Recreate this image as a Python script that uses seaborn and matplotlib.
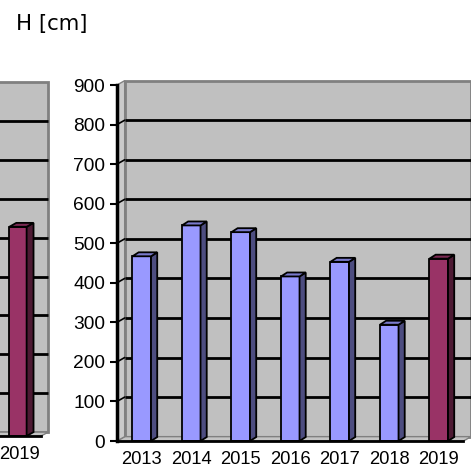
import numpy as np
import matplotlib
matplotlib.use("Agg")
import matplotlib.pyplot as plt
import matplotlib.transforms as mtransforms
from matplotlib.patches import Polygon
import seaborn as sns

# Heights per year (cm)
years = ["2013", "2014", "2015", "2016", "2017", "2018", "2019"]
heights = [467, 545, 528, 416, 453, 294, 461]
# Neighbouring panel: last year only
prev_years = ["2019"]
prev_heights = [538]

BLUE = "#9999FF"
PLUM = "#993366"
bar_colors = [BLUE] * 6 + [PLUM]

sns.set_theme(style="white")
plt.rcParams["font.family"] = ["Liberation Sans", "DejaVu Sans"]

W, H = 471, 468
fig = plt.figure(figsize=(W / 100, H / 100), dpi=100)
fig.patch.set_facecolor("white")


def add_px_axes(left, top, right, bottom):
    return fig.add_axes([left / W, (H - bottom) / H, (right - left) / W, (bottom - top) / H])


def shade(color, f):
    r, g, b = matplotlib.colors.to_rgb(color)
    return (r * f, g * f, b * f)


def draw_3d_frame(ax, x0, x1, ymax, wdx, wdy, side=True):
    wall = "#C0C0C0"
    edge = "#808080"
    # back wall
    ax.add_patch(Polygon([(x0 + wdx, wdy), (x1 + wdx, wdy), (x1 + wdx, ymax + wdy), (x0 + wdx, ymax + wdy)],
                         closed=True, facecolor=wall, edgecolor=edge, lw=2, zorder=0, clip_on=False))
    # floor
    ax.add_patch(Polygon([(x0, 0), (x1, 0), (x1 + wdx, wdy), (x0 + wdx, wdy)],
                         closed=True, facecolor="#C4C4C4", edgecolor=edge, lw=1, zorder=0.5, clip_on=False))
    if side:
        ax.add_patch(Polygon([(x0, 0), (x0 + wdx, wdy), (x0 + wdx, ymax + wdy), (x0, ymax)],
                             closed=True, facecolor="#CACACA", edgecolor=edge, lw=1, zorder=0.5, clip_on=False))
    for v in range(100, int(ymax), 100):
        ax.plot([x0 + wdx, x1 + wdx], [v + wdy, v + wdy], color="black", lw=2, zorder=1,
                solid_capstyle="butt", clip_on=False)
        if side:
            ax.plot([x0, x0 + wdx], [v, v + wdy], color="black", lw=1.2, zorder=1, clip_on=False)


def draw_bars(ax, cats, vals, colors, bdx, bdy):
    sns.barplot(x=cats, y=vals, hue=cats, palette=colors, width=0.375, edgecolor="black",
                linewidth=1.3, legend=False, ax=ax, zorder=3, saturation=1)
    for p in ax.patches:
        if not isinstance(p, matplotlib.patches.Rectangle):
            continue
        x0, w, h = p.get_x(), p.get_width(), p.get_height()
        x1 = x0 + w
        fc = p.get_facecolor()
        ax.add_patch(Polygon([(x1, 0), (x1 + bdx, bdy), (x1 + bdx, h + bdy), (x1, h)], closed=True,
                             facecolor=shade(fc, 0.5), edgecolor="black", lw=1.3, zorder=3))
        ax.add_patch(Polygon([(x0, h), (x1, h), (x1 + bdx, h + bdy), (x0 + bdx, h + bdy)], closed=True,
                             facecolor=shade(fc, 0.8), edgecolor="black", lw=1.3, zorder=3))


def style_axes(ax, ncat_lo, ncat_hi, show_y):
    ax.set_facecolor("none")
    ax.set_ylim(0, 900)
    ax.set_xlim(ncat_lo, ncat_hi)
    for s in ["top", "right"]:
        ax.spines[s].set_visible(False)
    ax.spines["bottom"].set_color("black")
    ax.spines["bottom"].set_linewidth(2)
    ax.spines["bottom"].set_zorder(4)
    ax.spines["left"].set_color("black")
    ax.spines["left"].set_linewidth(2.5)
    ax.spines["left"].set_zorder(4)
    ax.set_xlabel("")
    ax.set_ylabel("")
    ax.tick_params(axis="x", which="major", length=0, pad=7.2, labelsize=13.2, labelcolor="black")
    ax.tick_params(axis="x", which="minor", length=5, width=1.5, color="black", direction="out")
    ax.set_xticks(np.arange(ncat_lo + 1, ncat_hi + 0.01, 1.0), minor=True)
    if show_y:
        ax.set_yticks(range(0, 901, 100))
        ax.tick_params(axis="y", length=5, width=1.5, color="black", direction="out", pad=3.5,
                       labelsize=13.8, labelcolor="black", left=True)
    else:
        ax.set_yticks([])


# neighbouring panel, mostly outside the canvas on the left
axL = add_px_axes(41 - 7 * 46, 86, 41, 436)
draw_bars(axL, prev_years, prev_heights, [PLUM], 0.15, 10)
style_axes(axL, -6.5, 0.5, show_y=False)
draw_3d_frame(axL, -6.5, 0.5, 900, 0.16, 10, side=False)
# keep the year label just inside the canvas
nudge = mtransforms.ScaledTranslation(2 / 100, 0, fig.dpi_scale_trans)
for lbl in axL.get_xticklabels():
    lbl.set_transform(lbl.get_transform() + nudge)

# main panel
ax = add_px_axes(117, 85, 463.5, 441)
draw_bars(ax, years, heights, bar_colors, 0.125, 10)
style_axes(ax, -0.5, 6.5, show_y=True)
draw_3d_frame(ax, -0.5, 6.5, 900, 0.155, 11)

fig.text(16 / W, 1 - 24 / H, "H [cm]", fontsize=15.3, family=["DejaVu Sans"], va="center", ha="left",
         color="black")

fig.savefig("out.png", dpi=100, facecolor="white")
